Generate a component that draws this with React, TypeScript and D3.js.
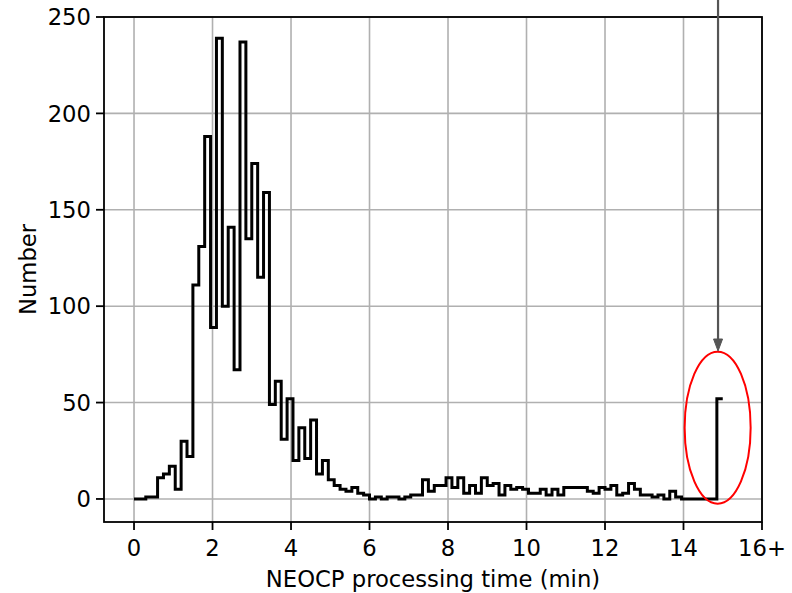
import React from "react";
import * as d3 from "d3";

// Histogram: 100 bins of width 0.15 min from 0 to 15 (last bin = overflow "16+")
const binWidth = 0.15;
const counts: number[] = [
  0, 0, 1, 1, 11, 13, 17, 5, 30, 22,
  111, 131, 188, 89, 239, 100, 141, 67, 237, 135,
  174, 115, 159, 49, 61, 31, 52, 20, 37, 21,
  41, 13, 20, 10, 7, 5, 4, 6, 3, 2,
  0, 1, 0, 1, 1, 0, 1, 2, 2, 10,
  4, 7, 7, 11, 6, 11, 3, 7, 3, 11,
  7, 8, 2, 7, 5, 6, 5, 3, 3, 5,
  2, 5, 2, 6, 6, 6, 6, 4, 3, 6,
  5, 7, 2, 3, 8, 5, 2, 2, 1, 2,
  0, 4, 1, 0, 0, 0, 0, 0, 0, 52,
];
const xTickValues: number[] = [0, 2, 4, 6, 8, 10, 12, 14, 16];
const xTickLabels: string[] = ["0", "2", "4", "6", "8", "10", "12", "14", "16+"];
const yTickValues: number[] = [0, 50, 100, 150, 200, 250];
const xLabel = "NEOCP processing time (min)";
const yLabel = "Number";

const W = 792;
const H = 593;
const left = 104;
const right = 762;
const top = 17;
const bottom = 522;
const FONT = "DejaVu Sans, sans-serif";
const FS = 22.7;

export default function App() {
  const x = d3.scaleLinear().domain([-0.765, 16]).range([left, right]);
  const y = d3.scaleLinear().domain([-11.95, 250]).range([bottom, top]);

  const pts: [number, number][] = counts.map((c, i) => [i * binWidth, c]);
  pts.push([counts.length * binWidth, counts[counts.length - 1]]);
  const line = d3
    .line<[number, number]>()
    .x((d) => x(d[0]))
    .y((d) => y(d[1]))
    .curve(d3.curveStepAfter);
  const pathD = line(pts) || "";

  // annotation (ellipse around the overflow bin and arrow)
  const ex = x(14.87);
  const ey = y(37);
  const arrowX = x(14.88);
  const arrowTipY = 351;

  return (
    <svg
      width={W}
      height={H}
      style={{ position: "absolute", left: 0, top: 0, background: "#fff" }}
      fontFamily={FONT}
    >
      <rect x={0} y={0} width={W} height={H} fill="#fff" />
      {/* grid */}
      {xTickValues.map((v) => (
        <line key={"gx" + v} x1={x(v)} x2={x(v)} y1={top} y2={bottom} stroke="#b0b0b0" strokeWidth={1.6} />
      ))}
      {yTickValues.map((v) => (
        <line key={"gy" + v} x1={left} x2={right} y1={y(v)} y2={y(v)} stroke="#b0b0b0" strokeWidth={1.6} />
      ))}
      {/* histogram step */}
      <path d={pathD} fill="none" stroke="#000" strokeWidth={3} strokeLinejoin="miter" />
      {/* spines */}
      <rect x={left} y={top} width={right - left} height={bottom - top} fill="none" stroke="#000" strokeWidth={1.8} />
      {/* x ticks */}
      {xTickValues.map((v, i) => (
        <g key={"tx" + v}>
          <line x1={x(v)} x2={x(v)} y1={bottom} y2={bottom + 8} stroke="#000" strokeWidth={1.8} />
          <text x={x(v)} y={bottom + 34} textAnchor="middle" fontSize={FS} fill="#000">
            {xTickLabels[i]}
          </text>
        </g>
      ))}
      {/* y ticks */}
      {yTickValues.map((v) => (
        <g key={"ty" + v}>
          <line x1={left - 8} x2={left} y1={y(v)} y2={y(v)} stroke="#000" strokeWidth={1.8} />
          <text x={left - 13} y={y(v) + FS * 0.36} textAnchor="end" fontSize={FS} fill="#000">
            {v}
          </text>
        </g>
      ))}
      {/* axis labels */}
      <text x={(left + right) / 2} y={587} textAnchor="middle" fontSize={FS} fill="#000">
        {xLabel}
      </text>
      <text
        transform={`translate(36,${(top + bottom) / 2}) rotate(-90)`}
        textAnchor="middle"
        fontSize={FS}
        fill="#000"
      >
        {yLabel}
      </text>
      {/* annotation */}
      <ellipse cx={ex} cy={ey} rx={33} ry={76} fill="none" stroke="#ff0000" strokeWidth={2} />
      <line x1={arrowX} x2={arrowX} y1={0} y2={arrowTipY - 10} stroke="#555" strokeWidth={2.2} />
      <path
        d={`M${arrowX - 4.5},${arrowTipY - 12} L${arrowX + 4.5},${arrowTipY - 12} L${arrowX},${arrowTipY} Z`}
        fill="#555"
        stroke="#555"
        strokeWidth={1}
      />
    </svg>
  );
}
